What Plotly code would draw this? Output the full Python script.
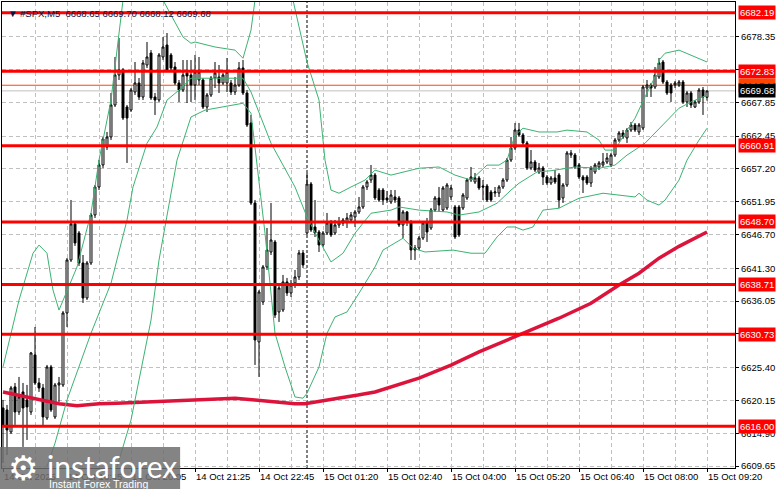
import plotly.graph_objects as go

# ---------------- data ----------------
opens = [6618.94, 6618.62, 6615.10, 6622.30, 6618.30, 6621.50, 6620.22, 6618.30, 6627.42, 6622.94,
         6622.14, 6617.34, 6625.50, 6617.50, 6622.62, 6622.62, 6634.14, 6642.62, 6648.38, 6646.94,
         6642.14, 6636.54, 6642.14, 6649.82, 6654.30, 6657.82, 6660.70, 6662.30, 6667.42, 6672.22,
         6673.02, 6667.10, 6666.62, 6669.50, 6670.94, 6668.70, 6673.82, 6675.74, 6668.70, 6668.22,
         6675.10, 6677.02, 6675.42, 6673.50, 6670.94, 6669.82, 6672.54, 6672.22, 6670.62, 6671.42,
         6671.42, 6667.10, 6669.02, 6671.74, 6671.90, 6670.94, 6670.94, 6670.94, 6669.50, 6670.62,
         6673.34, 6669.34, 6664.54, 6651.74, 6629.50, 6635.90, 6641.50, 6643.90, 6645.50, 6634.30,
         6634.62, 6639.10, 6637.34, 6638.94, 6639.90, 6643.74, 6646.94, 6654.78, 6647.90, 6647.10,
         6645.02, 6646.94, 6648.70, 6646.94, 6648.22, 6648.54, 6648.70, 6649.02, 6649.50, 6650.30,
         6651.10, 6654.30, 6655.42, 6656.22, 6653.82, 6653.82, 6652.54, 6651.90, 6652.70, 6652.54,
         6648.22, 6650.30, 6648.70, 6644.54, 6644.54, 6646.14, 6648.54, 6647.74, 6650.62, 6652.54,
         6650.62, 6650.94, 6652.70, 6651.10, 6651.10, 6650.94, 6652.54, 6655.42, 6655.10, 6655.74,
         6654.46, 6654.46, 6653.50, 6653.34, 6653.34, 6654.30, 6655.42, 6658.62, 6660.54, 6663.42,
         6662.62, 6661.34, 6657.34, 6658.30, 6656.70, 6657.34, 6655.90, 6654.94, 6655.74, 6656.22,
         6652.54, 6654.62, 6659.42, 6659.42, 6657.82, 6655.90, 6655.90, 6654.94, 6656.70, 6657.50,
         6657.82, 6658.30, 6657.82, 6659.42, 6661.82, 6662.94, 6662.14, 6663.42, 6664.22, 6663.10,
         6663.74, 6670.14, 6670.62, 6670.30, 6671.90, 6674.30, 6671.10, 6670.62, 6670.62, 6670.62,
         6671.10, 6667.90, 6669.34, 6667.10, 6667.90, 6669.82, 6668.65]
highs = [6620.22, 6619.42, 6622.46, 6622.94, 6623.90, 6622.94, 6622.62, 6627.90, 6631.90, 6623.74,
         6622.78, 6625.82, 6625.82, 6622.94, 6623.90, 6634.46, 6642.94, 6652.22, 6648.70, 6647.26,
         6643.42, 6642.46, 6650.14, 6654.62, 6658.62, 6662.30, 6663.10, 6669.34, 6675.10, 6678.14,
         6673.34, 6667.42, 6670.14, 6674.30, 6671.74, 6674.62, 6677.50, 6676.22, 6669.34, 6675.74,
         6678.30, 6678.94, 6675.74, 6674.30, 6671.42, 6674.62, 6674.62, 6674.62, 6675.42, 6675.10,
         6671.74, 6669.34, 6672.06, 6674.30, 6673.82, 6672.54, 6674.94, 6671.42, 6671.90, 6674.30,
         6674.62, 6669.82, 6665.82, 6652.22, 6637.82, 6641.82, 6647.74, 6651.74, 6645.82, 6638.62,
         6640.22, 6639.74, 6639.42, 6641.02, 6644.22, 6644.22, 6656.54, 6655.10, 6652.22, 6647.42,
         6647.26, 6650.14, 6649.02, 6649.02, 6649.50, 6649.34, 6650.14, 6650.30, 6650.62, 6652.70,
         6654.62, 6655.42, 6657.82, 6656.54, 6654.14, 6654.14, 6653.66, 6653.82, 6653.82, 6652.86,
         6650.62, 6650.46, 6649.02, 6645.02, 6646.46, 6648.86, 6649.34, 6650.94, 6652.86, 6654.30,
         6654.46, 6654.94, 6654.62, 6651.42, 6651.42, 6653.34, 6655.74, 6657.50, 6656.54, 6656.06,
         6655.42, 6654.78, 6653.82, 6654.30, 6654.62, 6655.74, 6658.94, 6662.30, 6664.54, 6664.54,
         6662.94, 6661.66, 6660.22, 6658.62, 6658.14, 6657.66, 6656.22, 6656.06, 6657.02, 6656.54,
         6654.94, 6660.06, 6660.22, 6659.74, 6658.14, 6656.22, 6656.22, 6657.66, 6658.14, 6658.46,
         6659.74, 6659.74, 6659.74, 6662.14, 6663.26, 6663.42, 6663.74, 6664.70, 6664.54, 6664.54,
         6670.62, 6671.42, 6670.94, 6673.50, 6674.94, 6674.62, 6671.42, 6670.94, 6671.26, 6671.42,
         6671.42, 6669.66, 6669.66, 6668.22, 6670.14, 6670.30, 6669.70]
lows = [6610.14, 6611.42, 6614.78, 6616.22, 6617.82, 6612.70, 6613.82, 6617.82, 6622.62, 6621.50,
        6615.90, 6617.02, 6618.30, 6617.18, 6619.90, 6622.30, 6631.90, 6642.30, 6644.86, 6641.66,
        6635.74, 6636.22, 6641.82, 6649.34, 6653.82, 6657.34, 6660.22, 6661.82, 6667.10, 6671.42,
        6665.02, 6658.14, 6666.30, 6669.02, 6668.22, 6668.22, 6673.34, 6668.22, 6665.82, 6667.90,
        6674.62, 6672.70, 6672.70, 6670.62, 6667.90, 6669.50, 6667.74, 6667.90, 6668.22, 6670.62,
        6666.78, 6666.30, 6668.70, 6670.14, 6669.34, 6670.62, 6669.50, 6669.02, 6669.02, 6670.30,
        6669.02, 6663.90, 6651.42, 6625.82, 6623.90, 6635.42, 6641.02, 6643.42, 6633.34, 6632.70,
        6634.30, 6636.86, 6636.70, 6638.14, 6639.42, 6641.34, 6646.62, 6647.10, 6646.30, 6643.90,
        6644.70, 6646.62, 6646.30, 6646.62, 6647.74, 6648.06, 6647.74, 6648.70, 6647.90, 6649.98,
        6650.78, 6653.82, 6654.94, 6652.22, 6651.90, 6651.42, 6651.74, 6651.58, 6651.74, 6647.90,
        6646.14, 6648.06, 6642.62, 6642.62, 6644.22, 6645.82, 6645.50, 6647.42, 6650.30, 6650.30,
        6650.30, 6650.62, 6652.22, 6645.98, 6646.30, 6650.62, 6652.22, 6655.10, 6654.78, 6653.82,
        6652.22, 6651.90, 6651.90, 6652.70, 6652.70, 6653.98, 6655.10, 6658.30, 6660.22, 6662.30,
        6661.02, 6657.02, 6657.02, 6656.70, 6656.38, 6654.62, 6654.62, 6654.62, 6654.78, 6650.94,
        6651.74, 6654.30, 6658.94, 6657.18, 6655.58, 6653.34, 6654.62, 6654.30, 6656.38, 6657.02,
        6657.50, 6657.98, 6657.50, 6659.10, 6661.50, 6661.98, 6661.34, 6663.10, 6663.10, 6662.62,
        6663.42, 6668.70, 6668.70, 6669.98, 6671.58, 6670.78, 6669.02, 6667.90, 6670.14, 6670.30,
        6667.58, 6667.10, 6666.94, 6666.94, 6667.58, 6665.82, 6668.12]
closes = [6616.22, 6615.42, 6622.14, 6618.30, 6620.70, 6618.94, 6619.10, 6627.74, 6622.94, 6622.14,
          6617.50, 6625.50, 6618.62, 6622.62, 6622.94, 6634.14, 6642.62, 6648.38, 6645.34, 6642.14,
          6636.54, 6642.14, 6649.82, 6654.30, 6657.82, 6661.98, 6662.30, 6667.42, 6672.22, 6673.02,
          6665.34, 6665.34, 6669.82, 6670.94, 6668.70, 6674.14, 6675.10, 6668.54, 6668.22, 6675.42,
          6676.70, 6673.02, 6673.34, 6670.94, 6669.82, 6672.22, 6672.06, 6670.62, 6672.70, 6672.70,
          6667.10, 6669.02, 6671.74, 6672.54, 6670.94, 6672.22, 6672.70, 6669.50, 6670.62, 6673.34,
          6669.34, 6664.22, 6651.74, 6629.82, 6637.50, 6641.50, 6644.22, 6645.82, 6633.82, 6638.14,
          6639.10, 6637.34, 6638.62, 6639.90, 6643.74, 6641.82, 6654.78, 6647.42, 6646.94, 6645.02,
          6646.94, 6648.54, 6646.62, 6648.22, 6648.70, 6649.02, 6649.34, 6649.82, 6650.30, 6651.10,
          6654.30, 6655.10, 6656.22, 6652.54, 6652.22, 6652.22, 6652.22, 6653.02, 6652.22, 6648.22,
          6650.30, 6648.70, 6644.22, 6644.22, 6646.14, 6648.54, 6647.10, 6650.62, 6652.54, 6651.42,
          6654.14, 6654.62, 6654.14, 6646.30, 6646.62, 6653.02, 6655.42, 6655.90, 6655.74, 6654.14,
          6654.30, 6652.22, 6652.22, 6653.50, 6654.30, 6655.42, 6658.62, 6660.54, 6663.42, 6662.62,
          6661.34, 6657.34, 6658.30, 6657.02, 6657.34, 6655.90, 6654.94, 6655.74, 6655.10, 6652.22,
          6654.62, 6659.74, 6659.74, 6657.50, 6655.90, 6655.42, 6654.94, 6657.34, 6657.82, 6658.14,
          6658.30, 6658.94, 6659.42, 6661.82, 6662.94, 6662.30, 6663.42, 6664.22, 6663.42, 6664.22,
          6670.30, 6670.62, 6670.14, 6672.22, 6674.14, 6671.10, 6669.34, 6669.34, 6670.94, 6671.10,
          6667.90, 6669.34, 6667.42, 6667.90, 6669.82, 6668.70, 6669.68]

# Bollinger bands (sampled along the bar index; None = band outside the visible price range)
bb_upper_bars = [0, 4, 7.5, 9, 11, 12.5, 14, 16, 18.5, 22, 24, 27, 29, 30, None,
                 40, 45, 47, 48, 53, 58, 60, 62, 63, None,
                 72.5, 76, 79, 80.5, 82, 84, 87, 90.5, 93, 97, 104, 109, 113, 117, 121, 124, 126,
                 128, 130, 134, 138.5, 141, 146, 149, 150.5, 153, 155.5, 158, 160.5, 163, 164,
                 165.5, 169, 172, 176]
bb_upper_vals = [6625.5, 6636.2, 6643.7, 6645.0, 6643.7, 6637.8, 6634.6, 6637.8, 6641.5, 6650.1,
                 6658.6, 6668.2, 6679.4, 6684.2, None,
                 6684.2, 6678.3, 6677.3, 6677.5, 6676.7, 6676.2, 6674.9, 6679.4, 6684.2, None,
                 6684.2, 6674.3, 6668.2, 6658.6, 6653.8, 6653.3, 6654.3, 6655.4, 6657.0, 6656.2,
                 6657.3, 6657.5, 6656.2, 6655.4, 6657.8, 6657.8, 6658.6, 6662.6, 6663.7, 6663.1,
                 6663.1, 6663.4, 6663.1, 6661.8, 6660.2, 6660.2, 6662.9, 6665.3, 6668.7, 6671.9,
                 6674.6, 6675.7, 6676.2, 6675.4, 6674.3]
bb_middle_bars = [11, 13, 16, 22, 27, 31, 32.5, 36, 38.5, 41, 44, 47, 50, 60, 62, 67, 73, 76, 79,
                  82, 85, 88, 92, 97, 99, 104, 111, 114, 119, 123.5, 127, 129, 133.5, 137, 143,
                  149, 153, 156, 160.5, 165, 169, 172, 176]
bb_middle_vals = [6609.6, 6613.3, 6620.2, 6630.9, 6638.9, 6649.0, 6654.3, 6661.3, 6663.9, 6668.2,
                  6669.8, 6671.7, 6671.7, 6671.7, 6669.5, 6661.3, 6654.3, 6649.5, 6645.8, 6642.3,
                  6643.7, 6646.9, 6650.1, 6650.6, 6651.1, 6650.6, 6650.3, 6649.8, 6650.3, 6651.7,
                  6653.8, 6654.9, 6656.7, 6656.9, 6657.5, 6657.3, 6657.8, 6659.4, 6661.3, 6664.2,
                  6666.9, 6667.9, 6669.0]
bb_lower_bars = [28.5, 32, 34.5, 37, 39, 41, 43.5, 47, 50.5, 60, 62, 65.5, 68, 70.5, 73, 75, 76,
                 79, 81, 83, 86, 89, 93, 95, 100, 102.5, 105.5, 112.5, 117, 120.5, 123.5, 126,
                 128, 130, 132.5, 135, 139, 140.5, 144, 150, 154, 158, 159, 161, 164, 165.5, 169,
                 171, 174, 176]
bb_lower_vals = [6609.5, 6617.0, 6625.0, 6633.0, 6642.6, 6649.8, 6658.6, 6665.5, 6666.6, 6667.7,
                 6666.1, 6646.9, 6630.9, 6625.5, 6620.7, 6620.5, 6621.3, 6625.5, 6630.9, 6633.5,
                 6634.3, 6637.3, 6641.5, 6644.2, 6646.1, 6644.5, 6643.9, 6644.2, 6643.7, 6643.7,
                 6646.3, 6647.9, 6647.9, 6647.4, 6647.9, 6650.6, 6650.9, 6651.4, 6652.5, 6653.3,
                 6653.0, 6652.7, 6653.3, 6652.2, 6651.4, 6652.2, 6655.4, 6658.6, 6661.8, 6663.7]

# slow moving average (sampled along the bar index)
ma_bars = [0, 3.5, 7.5, 11, 14, 18.5, 24, 28.5, 36.5, 46.75, 58, 63, 68, 73, 75.5, 78.75, 83.75,
           88.75, 93, 104, 112, 119, 127, 132, 139, 147, 154, 159, 164, 169, 176]
ma_vals = [6621.5, 6621.0, 6620.5, 6619.9, 6619.6, 6619.3, 6619.6, 6619.7, 6619.9, 6620.2, 6620.5,
           6620.2, 6619.9, 6619.6, 6619.6, 6619.9, 6620.5, 6621.0, 6621.5, 6623.7, 6625.8, 6627.9,
           6630.0, 6631.4, 6633.3, 6635.7, 6638.6, 6640.5, 6642.9, 6644.8, 6647.1]

level_prices = [6682.19, 6672.83, 6660.91, 6648.70, 6638.71, 6630.73, 6616.00]
ask_price = 6670.58
bid_price = 6669.68
day_separator_bar = 76

x_tick_bars = [0, 16, 32, 48, 64, 80, 96, 112, 128, 144, 160, 176]
x_tick_labels = ["14 Oct 2025", "14 Oct 18:45", "14 Oct 20:05", "14 Oct 21:25", "14 Oct 22:45",
                 "15 Oct 01:20", "15 Oct 02:40", "15 Oct 04:00", "15 Oct 05:20", "15 Oct 06:40",
                 "15 Oct 08:00", "15 Oct 09:20"]
y_tick_labels = ["6678.35", "6673.10", "6667.85", "6662.45", "6657.20", "6651.95", "6646.70",
                 "6641.30", "6636.05", "6630.80", "6625.40", "6620.15", "6614.90", "6609.65"]

title_text = "#SPX,M5  6668.65 6669.70 6668.12 6669.68"

# ---------------- figure ----------------
FONT = "Liberation Sans"
bars = list(range(len(opens)))

fig = go.Figure()
fig.add_trace(go.Scatter(x=ma_bars, y=ma_vals, mode="lines",
                         line=dict(color="#DC143C", width=3.5), hoverinfo="skip"))
for bx, by in [(bb_upper_bars, bb_upper_vals), (bb_middle_bars, bb_middle_vals),
               (bb_lower_bars, bb_lower_vals)]:
    fig.add_trace(go.Scatter(x=bx, y=by, mode="lines", connectgaps=False,
                             line=dict(color="#3CB371", width=1), hoverinfo="skip"))
fig.add_trace(go.Candlestick(
    x=bars, open=opens, high=highs, low=lows, close=closes, whiskerwidth=0,
    increasing=dict(line=dict(color="black", width=1), fillcolor="white"),
    decreasing=dict(line=dict(color="black", width=1), fillcolor="black")))

shapes = []
# bid / ask lines
shapes.append(dict(type="line", xref="paper", x0=0, x1=1, yref="y", y0=bid_price, y1=bid_price,
                   line=dict(color="#C0C0C0", width=1), layer="below"))
shapes.append(dict(type="line", xref="paper", x0=0, x1=1, yref="y", y0=ask_price, y1=ask_price,
                   line=dict(color="#FF4500", width=1), layer="below"))
for lv in level_prices:
    shapes.append(dict(type="line", xref="paper", x0=0, x1=1, yref="y", y0=lv, y1=lv,
                       line=dict(color="#FF0000", width=3), layer="above"))
shapes.append(dict(type="line", xref="x", x0=day_separator_bar, x1=day_separator_bar,
                   yref="paper", y0=0, y1=1, line=dict(color="black", width=1, dash="3px,2px"),
                   layer="below"))
# watermark box
shapes.append(dict(type="rect", xref="paper", yref="paper", x0=-0.003, x1=0.243, y0=-0.046,
                   y1=0.045, fillcolor="rgba(110,110,110,0.85)", line=dict(width=0),
                   layer="above"))

annotations = []
for lv in level_prices:
    annotations.append(dict(xref="paper", x=1, xanchor="left", xshift=3, yref="y", y=lv,
                            yanchor="middle", text=f"{lv:.2f}", showarrow=False,
                            font=dict(family=FONT, size=9.5, color="white"),
                            bgcolor="#FF0000", borderpad=1))
annotations.append(dict(xref="paper", x=1, xanchor="left", xshift=3, yref="y", y=ask_price,
                        yanchor="middle", text=f"{ask_price:.2f}", showarrow=False,
                        font=dict(family=FONT, size=9.5, color="white"),
                        bgcolor="#FF4500", borderpad=1))
annotations.append(dict(xref="paper", x=1, xanchor="left", xshift=3, yref="y", y=bid_price,
                        yanchor="middle", text=f"{bid_price:.2f}", showarrow=False,
                        font=dict(family=FONT, size=9.5, color="white"),
                        bgcolor="black", borderpad=1))
annotations.append(dict(xref="paper", x=0, xshift=4, xanchor="left", yref="paper", y=1,
                        yshift=-4, yanchor="top", text="▼ " + title_text, showarrow=False,
                        font=dict(family=FONT, size=9.5, color="#101040")))
annotations.append(dict(xref="paper", x=0.005, xanchor="left", yref="paper", y=0.0,
                        yanchor="middle", text="⚙", showarrow=False,
                        font=dict(family="DejaVu Sans", size=34, color="white")))
annotations.append(dict(xref="paper", x=0.058, xanchor="left", yref="paper", y=0.0,
                        yanchor="middle", yshift=2, text="instaforex", showarrow=False,
                        font=dict(family="Lato", size=30, color="white")))
annotations.append(dict(xref="paper", x=0.062, xanchor="left", yref="paper", y=-0.035,
                        yanchor="middle", text="Instant Forex Trading", showarrow=False,
                        font=dict(family=FONT, size=10.5, color="white")))

fig.update_layout(
    width=781, height=489,
    margin=dict(l=2, r=46, t=2, b=21),
    paper_bgcolor="white", plot_bgcolor="white",
    showlegend=False,
    shapes=shapes, annotations=annotations,
    font=dict(family=FONT, size=9.5, color="black"),
    xaxis=dict(range=[-0.25, 183], rangeslider=dict(visible=False),
               tickmode="array", tickvals=x_tick_bars, ticktext=x_tick_labels,
               ticklabelposition="outside right",
               ticks="outside", ticklen=3, tickcolor="black",
               showline=True, linecolor="black", linewidth=1, mirror=True,
               showgrid=True, gridcolor="#C0C0C0", griddash="4px,3px", gridwidth=1,
               minor=dict(tick0=0, dtick=8, showgrid=True, gridcolor="#C0C0C0",
                          griddash="4px,3px", ticks=""),
               zeroline=False, fixedrange=True),
    yaxis=dict(range=[6609.33, 6683.90], side="right",
               tickmode="array", tickvals=[float(s) for s in y_tick_labels],
               ticktext=y_tick_labels,
               ticks="outside", ticklen=3, tickcolor="black",
               showline=True, linecolor="black", linewidth=1, mirror=True,
               showgrid=True, gridcolor="#C0C0C0", griddash="4px,3px", gridwidth=1,
               zeroline=False, fixedrange=True),
)

fig.write_html("out.html", config={"displayModeBar": False},
               post_script="document.body.style.margin='0';")
